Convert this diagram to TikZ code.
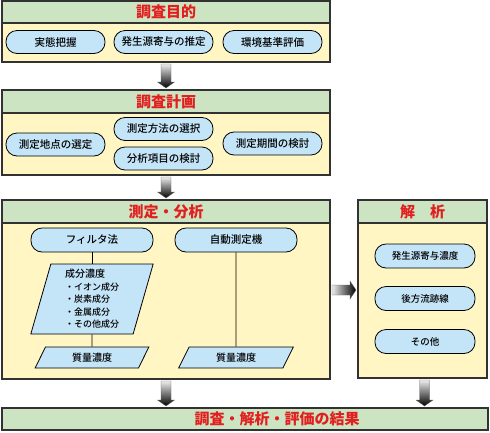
\documentclass[tikz,border=0pt]{standalone}
\usepackage{fontspec}
\setmainfont{Noto Sans CJK JP}
\newfontfamily\jpmed{Noto Sans CJK JP Medium}
\usetikzlibrary{shapes.geometric,calc,positioning}

\definecolor{bandgreen}{RGB}{204,228,194}
\definecolor{panelyellow}{RGB}{255,246,196}
\definecolor{pillblue}{RGB}{196,228,248}
\definecolor{titlered}{RGB}{226,30,30}
\definecolor{edgegray}{RGB}{50,50,50}

\tikzset{
	band/.style={draw=edgegray, line width=1.2pt, fill=bandgreen, outer sep=0pt, inner sep=0pt},
	titletext/.style={font=\bfseries\fontsize{15}{15}\selectfont, text=titlered, inner sep=0pt},
	panel/.style={draw=edgegray, line width=1.2pt, fill=panelyellow, outer sep=0pt},
	pill/.style={draw=black, line width=0.8pt, fill=pillblue, rounded corners=11pt, minimum height=23pt, minimum width=99pt, inner sep=0pt, font=\jpmed\fontsize{10.5}{12}\selectfont},
	para/.style={trapezium, trapezium stretches=true, draw=black, line width=0.8pt, fill=pillblue, inner sep=0pt},
	link/.style={draw=black, line width=0.8pt}
}

% block arrows between two named points
\newcommand{\fatdown}[2]{%
	\shade[top color=gray!15, bottom color=black, draw=black!60, line width=.3pt]
	let \p1=(#1), \p2=(#2) in
	(\x1-5pt,\y1-2pt) -- (\x1+5pt,\y1-2pt) -- (\x1+5pt,\y2+8pt) -- (\x1+8.5pt,\y2+8pt)
	-- (\x1,\y2+2pt) -- (\x1-8.5pt,\y2+8pt) -- (\x1-5pt,\y2+8pt) -- cycle;}
\newcommand{\fatright}[2]{%
	\shade[left color=gray!15, right color=black, draw=black!60, line width=.3pt]
	let \p1=(#1), \p2=(#2) in
	(\x1+2pt,\y1+5pt) -- (\x2-8pt,\y1+5pt) -- (\x2-8pt,\y1+9pt) -- (\x2-2pt,\y1)
	-- (\x2-8pt,\y1-9pt) -- (\x2-8pt,\y1-5pt) -- (\x1+2pt,\y1-5pt) -- cycle;}

\begin{document}
\begin{tikzpicture}[x=1pt, y=-1pt]
	\useasboundingbox (0,0) rectangle (490,432);

	% 調査目的
	\node[band, minimum width=328pt, minimum height=22pt] (t1) at (166,12) {};
	\node[titletext] (t1txt) at (t1) {調査目的};
	\node[panel, minimum width=328pt, minimum height=39pt, anchor=north] (p1) at (t1.south) {};
	\node[pill] (goal1) at (55.5,42) {実態把握};
	\node[pill] (goal2) at (163.5,42) {発生源寄与の推定};
	\node[pill] (goal3) at (272.5,42) {環境基準評価};

	% 調査計画
	\node[band, minimum width=328pt, minimum height=23pt] (t2) at (166,101.5) {};
	\node[titletext] (t2txt) at (t2) {調査計画};
	\node[panel, minimum width=328pt, minimum height=62pt, anchor=north] (p2) at (t2.south) {};
	\node[pill] (plan1) at (55.5,144.5) {測定地点の選定};
	\node[pill] (plan2) at (163.5,129) {測定方法の選択};
	\node[pill] (plan3) at (163.5,158.5) {分析項目の検討};
	\node[pill] (plan4) at (272.5,143.5) {測定期間の検討};

	% 測定・分析
	\node[band, minimum width=328pt, minimum height=23pt] (t3) at (166,211.5) {};
	\node[titletext] (t3txt) at (t3) {測定・分析};
	\node[panel, minimum width=328pt, minimum height=156pt, anchor=north] (p3) at (t3.south) {};
	\node[pill, minimum width=122pt, minimum height=24pt] (filter) at (92,240) {フィルタ法};
	\node[pill, minimum width=122pt, minimum height=24pt] (auto) at (236,240) {自動測定機};
	\node[para, trapezium left angle=77.5, trapezium right angle=102.5, minimum width=123pt, minimum height=70pt,
		align=left, font=\jpmed\fontsize{9}{12.5}\selectfont] (comp) at (92,299)
		{{\fontsize{10}{12.5}\selectfont 成分濃度}\\・イオン成分\\・炭素成分\\・金属成分\\・その他成分};
	\node[para, trapezium left angle=64.5, trapezium right angle=115.5, minimum width=114pt, minimum height=21pt,
		font=\jpmed\fontsize{10}{12}\selectfont] (mass1) at (92,357.5) {質量濃度};
	\node[para, trapezium left angle=64.5, trapezium right angle=115.5, minimum width=115pt, minimum height=21pt,
		font=\jpmed\fontsize{10}{12}\selectfont] (mass2) at (236,357.5) {質量濃度};
	\draw[link] (filter) -- (comp);
	\draw[link] (comp) -- (mass1);
	\draw[link] (auto) -- (mass2);

	% 解析
	\node[band, minimum width=129pt, minimum height=23pt] (t4) at (422.5,211.5) {};
	\node[titletext] (t4txt) at (t4) {解\hspace{1em}析};
	\node[panel, minimum width=129pt, minimum height=155pt, anchor=north] (p4) at (t4.south) {};
	\node[pill, minimum width=100pt, minimum height=24pt, font=\jpmed\fontsize{9.5}{11}\selectfont] (ana1) at (425,256) {発生源寄与濃度};
	\node[pill, minimum width=100pt, minimum height=24pt, font=\jpmed\fontsize{9.5}{11}\selectfont] (ana2) at (425,298.5) {後方流跡線};
	\node[pill, minimum width=100pt, minimum height=24pt, font=\jpmed\fontsize{9.5}{11}\selectfont] (ana3) at (425,341.5) {その他};

	% 結果
	\node[band, minimum width=486pt, minimum height=22pt] (t5) at (245,419) {};
	\node[titletext] (t5txt) at (277,419) {調査・解析・評価の結果};

	% block arrows
	\fatdown{p1.south}{t2.north}
	\fatdown{p2.south}{t3.north}
	\fatdown{p3.south}{p3.south |- t5.north}
	\fatdown{[xshift=2pt]p4.south}{[xshift=2pt]p4.south |- t5.north}
	\fatright{[yshift=11pt]p3.east}{[yshift=11pt]p4.west}
\end{tikzpicture}
\end{document}
